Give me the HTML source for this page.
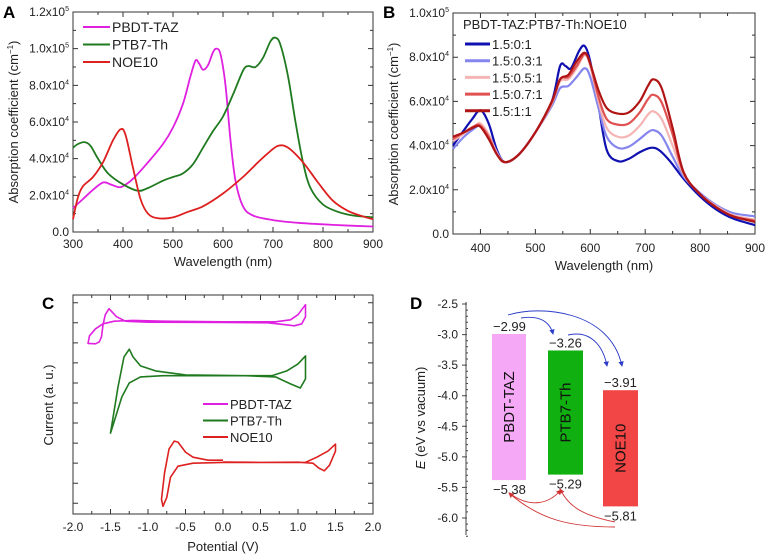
<!DOCTYPE html>
<html><head><meta charset="utf-8"><style>
html,body{margin:0;padding:0;background:#fff;}
svg{display:block;font-family:"Liberation Sans",Arial,sans-serif;}
</style></head><body>
<svg id="fig" width="767" height="559" viewBox="0 0 767 559">
<text x="3" y="18" font-size="17" font-weight="bold">A</text>
<text x="383" y="18" font-size="17" font-weight="bold">B</text>
<text x="42" y="309" font-size="17" font-weight="bold">C</text>
<text x="410" y="309" font-size="17" font-weight="bold">D</text>
<g id="gA"></g>
<g id="gB"></g>
<g id="gC"></g>
<g id="gD"></g>
</svg>
<script>
// ---------- Panel A data ----------
const aTazX=[300,320,340,360,375,390,400,420,450,480,500,520,535,545,552,560,570,580,587,595,605,615,625,640,660,700,750,800,850,900];
const aTazY=[13000,18000,23000,27000,26000,24500,25000,29000,38000,48000,57000,70000,85000,93500,92000,88500,91000,98000,100000,97000,80000,50000,28000,14000,9000,6500,5000,4200,3500,3000];
const aPtbX=[300,310,323,335,350,370,400,430,450,480,500,520,540,560,580,600,620,640,650,665,680,695,705,715,730,745,760,775,800,830,860,900];
const aPtbY=[46000,48000,49000,47000,40000,32000,26000,22500,24000,28000,30000,32000,37000,46000,55000,63000,75000,88000,90500,90000,95000,104000,106000,102000,85000,60000,38000,24000,15000,11000,9000,8000];
const aNoeX=[300,310,320,340,360,380,395,405,420,435,450,470,500,530,560,600,640,670,690,710,730,760,790,820,850,880,900];
const aNoeY=[7000,19000,25000,30000,38000,50000,56000,53000,35000,18000,10000,7500,8000,11000,14000,21000,30000,38000,43000,47000,46000,38000,27000,17000,11500,8500,7000];
const aXTicks=[300,400,500,600,700,800,900];
const aYTicks=[0,20000,40000,60000,80000,100000,120000];
const aYLabels=[["0.0",""],["2.0x10","4"],["4.0x10","4"],["6.0x10","4"],["8.0x10","4"],["1.0x10","5"],["1.2x10","5"]];
const aLegend=["PBDT-TAZ","PTB7-Th","NOE10"];
// ---------- Panel B data ----------
const bX1=[350,370,385,400,415,430,445,470,500,530,545,555,565,580,590,600,615,630,650,670,690,710,725,745,770,800,830,860,900];
const bY1=[40000,47000,52000,56000,50000,38000,32500,36000,46000,60000,76000,76000,75000,83000,85000,78000,58000,38000,33000,34000,37000,39000,38000,33000,25000,17000,11000,7000,4000];
const bX=[350,370,390,400,415,430,445,470,500,530,545,560,575,590,600,615,630,650,670,690,705,715,730,750,770,800,830,860,900];
const bY2=[38500,44000,48000,49000,45000,37000,32500,36000,46000,58000,66000,67000,71000,75000,71000,57000,44000,39000,39500,43000,46000,47000,44500,35000,26000,18500,13000,9500,8000];
const bY3=[42000,45500,49000,50000,45000,36500,32500,36000,46000,59000,69000,70000,75000,81000,76000,60000,48000,44000,44500,49000,54000,55500,52000,40000,27000,18000,12500,8500,6500];
const bY4=[43000,46000,49000,49000,44000,36000,32500,36000,46000,59500,70000,71000,76000,81500,77000,62000,52000,49500,50000,55000,61000,63000,59500,45000,27500,18000,12000,8000,6000];
const bY5=[44000,46000,48500,48500,43000,36000,32500,36000,46000,60000,70000,72000,78000,82000,77000,65000,57000,54500,55000,60000,67000,70000,66000,48000,28000,18000,12000,8000,5500];
const bXTicks=[400,500,600,700,800,900];
const bYTicks=[0,20000,40000,60000,80000,100000];
const bYLabels=[["0.0",""],["2.0x10","4"],["4.0x10","4"],["6.0x10","4"],["8.0x10","4"],["1.0x10","5"]];
const bLegend=["1.5:0:1","1.5:0.3:1","1.5:0.5:1","1.5:0.7:1","1.5:1:1"];
// ---------- Panel C data ----------
const cTazX=[0,0.7,0.9,1.0,1.1,1.1,1.05,0.95,0.8,0.6,0,-1.0,-1.3,-1.42,-1.52,-1.57,-1.6,-1.62,-1.65,-1.7,-1.8,-1.78,-1.7,-1.6,-1.45,-1.2,-0.8,0];
const cTazY=[9.05,9.05,9.15,9.4,9.9,9.3,8.95,8.85,8.92,9.0,9.02,9.03,9.08,9.3,9.7,9.4,8.9,8.3,8.05,7.95,7.97,8.35,8.7,8.95,9.08,9.12,9.08,9.05];
const cPtbX=[0,0.65,0.85,1.0,1.1,1.1,1.03,0.9,0.7,0.3,-0.5,-0.9,-1.1,-1.2,-1.25,-1.32,-1.4,-1.47,-1.5,-1.45,-1.35,-1.25,-1.1,-0.8,0];
const cPtbY=[6.36,6.36,6.6,6.95,7.35,6.2,5.75,5.95,6.3,6.36,6.4,6.6,6.85,7.3,7.68,7.3,5.8,4.2,3.5,4.1,5.3,6.0,6.3,6.36,6.36];
const cNoeX=[0,-0.2,-0.4,-0.5,-0.6,-0.65,-0.72,-0.78,-0.82,-0.8,-0.75,-0.7,-0.6,-0.4,0,1.1,1.25,1.4,1.5,1.5,1.42,1.35,1.28,1.2,1.0,0.5,0];
const cNoeY=[2.15,2.15,2.3,2.55,3.05,3.1,2.7,1.5,0.2,-0.15,0.3,1.3,1.85,2.0,2.04,2.04,2.3,2.6,2.95,2.6,1.9,1.62,1.75,2.0,2.05,2.04,2.06];
const cXTicks=[-2,-1.5,-1,-0.5,0,0.5,1,1.5,2];
const cXLabels=["-2.0","-1.5","-1.0","-0.5","0.0","0.5","1.0","1.5","2.0"];
const cYTicks=[0,1,2,3,4,5,6,7,8,9,10];
// ---------- Panel D data ----------
const dNames=["PBDT-TAZ","PTB7-Th","NOE10"];
const dLumo=[-2.99,-3.26,-3.91];
const dHomo=[-5.38,-5.29,-5.81];
const dYTicks=[-2.5,-3.0,-3.5,-4.0,-4.5,-5.0,-5.5,-6.0];

const NS="http://www.w3.org/2000/svg";
function mk(parent,tag,attrs){const e=document.createElementNS(NS,tag);for(const k in attrs)e.setAttribute(k,attrs[k]);parent.appendChild(e);return e;}
function smooth(pts){let d="M"+pts[0][0].toFixed(2)+","+pts[0][1].toFixed(2);
 for(let i=0;i<pts.length-1;i++){const p0=pts[i-1]||pts[i],p1=pts[i],p2=pts[i+1],p3=pts[i+2]||p2;
  const c1=[p1[0]+(p2[0]-p0[0])/6,p1[1]+(p2[1]-p0[1])/6],c2=[p2[0]-(p3[0]-p1[0])/6,p2[1]-(p3[1]-p1[1])/6];
  d+="C"+c1[0].toFixed(2)+","+c1[1].toFixed(2)+" "+c2[0].toFixed(2)+","+c2[1].toFixed(2)+" "+p2[0].toFixed(2)+","+p2[1].toFixed(2);}
 return d;}
function lin(d0,d1,r0,r1){return v=>r0+(v-d0)*(r1-r0)/(d1-d0);}

function frame(g,x0,y0,x1,y1,xs,ys,xt,yt,xminor,yminor){
 const f=mk(g,"rect",{x:x0,y:y0,width:x1-x0,height:y1-y0,fill:"none",stroke:"#333","stroke-width":1});
 
 
 let d="";
 xt.forEach(v=>{const x=xs(v);d+=`M${x},${y1}v-5M${x},${y0}v5`;});
 xminor.forEach(v=>{const x=xs(v);d+=`M${x},${y1}v-3M${x},${y0}v3`;});
 yt.forEach(v=>{const y=ys(v);d+=`M${x0},${y}h5M${x1},${y}h-5`;});
 yminor.forEach(v=>{const y=ys(v);d+=`M${x0},${y}h3M${x1},${y}h-3`;});
 const t=mk(g,"path",{d:d,stroke:"#333","stroke-width":1,fill:"none"});
 
 
}
function txt(g,x,y,s,size,anchor){const t=mk(g,"text",{x:x,y:y,"font-size":size,"text-anchor":anchor||"start",fill:"#222"});t.textContent=s;return t;}
function sciLabel(g,x,y,lab){const t=mk(g,"text",{x:x,y:y,"font-size":12,"text-anchor":"end",fill:"#222"});
 t.textContent=lab[0];
 if(lab[1]){const s=mk(t,"tspan",{dy:-5,"font-size":7});s.textContent=lab[1];}
 return t;}
function curve(g,xs,ys,X,Y,color,w){const pts=X.map((v,i)=>[xs(v),ys(Y[i])]);
 return mk(g,"path",{d:smooth(pts),fill:"none",stroke:color,"stroke-width":w,"stroke-linejoin":"round"});}

// ===== Panel A =====
(function(){const g=document.getElementById("gA");
 const xs=lin(300,900,73,373), ys=lin(0,120000,232,12);
 frame(g,73,12,373,232,xs,ys,aXTicks,aYTicks,[350,450,550,650,750,850],[10000,30000,50000,70000,90000,110000]);
 aXTicks.forEach(v=>{const t=txt(g,xs(v),248,String(v),12,"middle");
  
  });
 aYTicks.forEach((v,i)=>{const t=sciLabel(g,69,ys(v)+4,aYLabels[i]);
  
  });
 const xl=txt(g,223,266,"Wavelength (nm)",13,"middle");
 
 
 const yl=mk(g,"text",{x:0,y:0,"font-size":13,"text-anchor":"middle",fill:"#222",transform:"translate(18,122) rotate(-90)"});
 yl.innerHTML='Absorption coefficient (cm<tspan dy="-5" font-size="8">−1</tspan><tspan dy="5">)</tspan>';
 
 
 const cols=["#e020e0","#1f7a1f","#dd2020"];
 const sets=[[aTazX,aTazY],[aPtbX,aPtbY],[aNoeX,aNoeY]];
 sets.forEach((s,i)=>{const p=curve(g,xs,ys,s[0],s[1],cols[i],1.8);
  
  });
 aLegend.forEach((n,i)=>{const y=27+i*17.5;
  const l=mk(g,"line",{x1:83,x2:110,y1:y,y2:y,stroke:cols[i],"stroke-width":2});
  
  
  const t=txt(g,112,y+5,n,14,"start");
  
  });
})();

// ===== Panel B =====
(function(){const g=document.getElementById("gB");
 const xs=lin(350,900,453,755), ys=lin(0,100000,234,13);
 frame(g,453,13,755,234,xs,ys,bXTicks,bYTicks,[450,550,650,750,850],[10000,30000,50000,70000,90000]);
 bXTicks.forEach(v=>{const t=txt(g,xs(v),252,String(v),12,"middle");
  
  });
 bYTicks.forEach((v,i)=>{const t=sciLabel(g,449,ys(v)+4,bYLabels[i]);
  
  });
 const xl=txt(g,604,270,"Wavelength (nm)",13,"middle");
 
 
 const yl=mk(g,"text",{x:0,y:0,"font-size":13,"text-anchor":"middle",fill:"#222",transform:"translate(398,124) rotate(-90)"});
 yl.innerHTML='Absorption coefficient (cm<tspan dy="-5" font-size="8">−1</tspan><tspan dy="5">)</tspan>';
 
 
 const cols=["#1010b0","#8585ee","#f5b5b5","#e05252","#b01515"];
 const sets=[[bX1,bY1],[bX,bY2],[bX,bY3],[bX,bY4],[bX,bY5]];
 sets.forEach((s,i)=>{const p=curve(g,xs,ys,s[0],s[1],cols[i],2.2);
  
  });
 const tt=txt(g,463,29,"PBDT-TAZ:PTB7-Th:NOE10",13,"start");
 
 
 bLegend.forEach((n,i)=>{const y=44+i*16.7;
  const l=mk(g,"line",{x1:465,x2:490,y1:y,y2:y,stroke:cols[i],"stroke-width":3});
  
  
  const t=txt(g,492,y+5,n,13,"start");
  
  });
})();

// ===== Panel C =====
(function(){const g=document.getElementById("gC");
 const xs=lin(-2,2,73,373), ys=lin(0,10,503.3,302.7);
 frame(g,73,295,373,514,xs,ys,cXTicks,cYTicks,[-1.75,-1.25,-0.75,-0.25,0.25,0.75,1.25,1.75],[]);
 cXTicks.forEach((v,i)=>{const t=txt(g,xs(v),531,cXLabels[i],12,"middle");
  
  });
 const xl=txt(g,223,551,"Potential (V)",13,"middle");
 
 
 const yl=mk(g,"text",{x:0,y:0,"font-size":13,"text-anchor":"middle",fill:"#222",transform:"translate(53,405) rotate(-90)"});
 yl.textContent="Current (a. u.)";
 
 
 const names=["PBDT-TAZ","PTB7-Th","NOE10"];
 const cols=["#e020e0","#1f7a1f","#dd2020"];
 const sets=[[cTazX,cTazY],[cPtbX,cPtbY],[cNoeX,cNoeY]];
 sets.forEach((s,i)=>{const pts=s[0].map((v,j)=>[xs(v),ys(s[1][j])]);
  const p=mk(g,"path",{d:"M"+pts.map(p=>p[0].toFixed(1)+","+p[1].toFixed(1)).join("L"),fill:"none",stroke:cols[i],"stroke-width":1.6,"stroke-linejoin":"round"});
  
  });
 names.forEach((n,i)=>{const y=404+i*16.5;
  const l=mk(g,"line",{x1:203,x2:228,y1:y,y2:y,stroke:cols[i],"stroke-width":2});
  
  
  const t=txt(g,230,y+5,n,13,"start");
  
  });
})();

// ===== Panel D =====
(function(){const g=document.getElementById("gD");
 const ys=lin(-2.5,-6.0,304,518);
 const ax=mk(g,"line",{x1:466,x2:466,y1:302,y2:535,stroke:"#444","stroke-width":1});
 
 
 let d="";
 dYTicks.forEach(v=>{d+=`M462,${ys(v)}h5`;});
 for(let v=-2.6;v>=-6.35;v-=0.1){if(Math.abs(Math.round(v*2)-v*2)>0.01)d+=`M466,${ys(v).toFixed(1)}h2`;}
 const tk=mk(g,"path",{d:d,stroke:"#444","stroke-width":1});
 
 
 dYTicks.forEach(v=>{const t=txt(g,458,ys(v)+4,v.toFixed(1),12,"end");
  
  });
 const yl=mk(g,"text",{x:0,y:0,"font-size":13,"text-anchor":"middle",fill:"#222",transform:"translate(425,418) rotate(-90)"});
 yl.innerHTML='<tspan font-style="italic">E</tspan> (eV vs vacuum)';
 
 
 const bx=[492,548,603], bw=[34,35,35];
 const cols=["#f5a8f5","#10b010","#f24545"];
 dNames.forEach((n,i)=>{const y0=ys(dLumo[i]),y1=ys(dHomo[i]);
  const r=mk(g,"rect",{x:bx[i],y:y0,width:bw[i],height:y1-y0,fill:cols[i]});
  
  
  const cx=bx[i]+bw[i]/2, cy=(y0+y1)/2;
  const t=mk(g,"text",{x:0,y:0,"font-size":15,"text-anchor":"middle",fill:"#111",transform:`translate(${cx+5},${cy}) rotate(-90)`});
  t.textContent=n;
  
  
  const lt=txt(g,bx[i]+1,y0-3,"−"+Math.abs(dLumo[i]).toFixed(2),13,"start");
  
  
  const ht=txt(g,bx[i]+1,y1+14,"−"+Math.abs(dHomo[i]).toFixed(2),13,"start");
  
  });
 const defs=mk(g,"defs",{});
 defs.innerHTML='<marker id="ab" markerWidth="6" markerHeight="6" refX="5" refY="3" orient="auto"><path d="M0,0L6,3L0,6z" fill="#2a3cc8"/></marker><marker id="ar" markerWidth="6" markerHeight="6" refX="5" refY="3" orient="auto"><path d="M0,0L6,3L0,6z" fill="#d03030"/></marker>';
 const arcs=[["M508,315 C540,305 610,310 622,366","#2a3cc8","ab"],["M521,318 C540,315 550,322 553,334","#2a3cc8","ab"],["M568,335 C590,330 603,345 607,366","#2a3cc8","ab"],
  ["M615,527 C570,527 540,520 509,493","#d03030","ar"],["M615,522 C580,515 568,505 560,489","#d03030","ar"],["M512,495 C530,507 548,505 561,490","#d03030","ar"]];
 arcs.forEach(a=>{const p=mk(g,"path",{d:a[0],fill:"none",stroke:a[1],"stroke-width":0.9,"marker-end":`url(#${a[2]})`});
  
  });
})();
</script>
</body></html>
